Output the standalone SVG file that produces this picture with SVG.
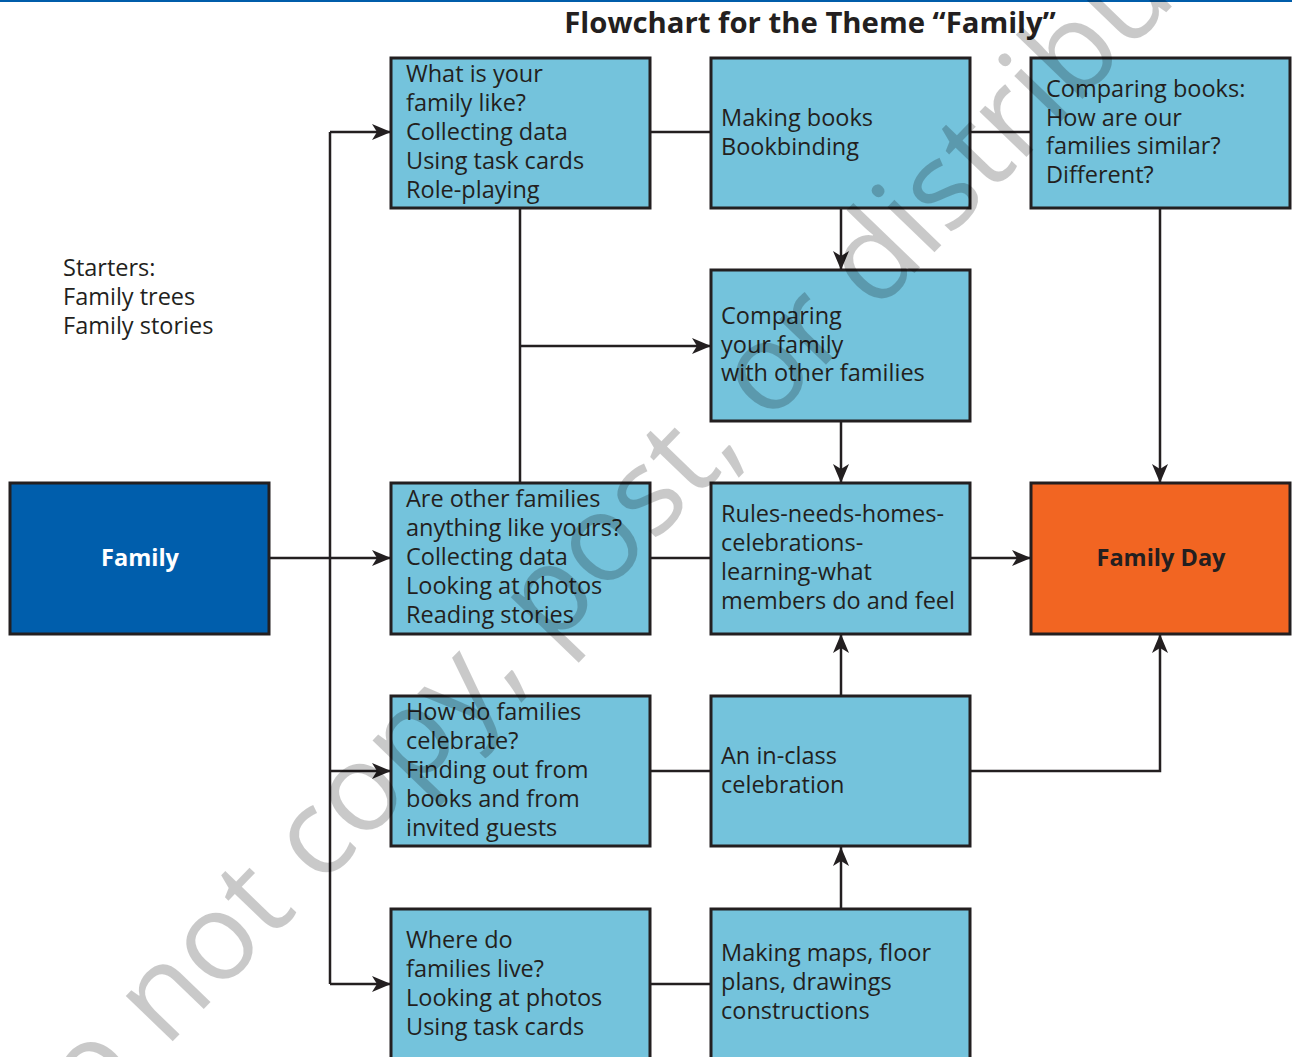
<svg xmlns="http://www.w3.org/2000/svg" width="1292" height="1057" viewBox="0 0 1292 1057">
<defs>
<style>
.box{fill:#74c3dc;stroke:#231f20;stroke-width:3}
.t{font-family:"Open Sans","Noto Sans","Liberation Sans",sans-serif;font-size:23.5px;fill:#231f20}
.b{font-family:"Open Sans","Noto Sans","Liberation Sans",sans-serif;font-size:23.5px;font-weight:bold;text-anchor:middle}
.c{fill:none;stroke:#231f20;stroke-width:2.5}
.a{marker-end:url(#arr)}
</style>
<marker id="arr" markerUnits="userSpaceOnUse" markerWidth="20" markerHeight="18" refX="19" refY="8" orient="auto" viewBox="0 0 20 16">
<path d="M0,0 L19,8 L0,16 L5,8 z" fill="#231f20"/>
</marker>
</defs>
<rect width="1292" height="1057" fill="#fff"/>
<rect x="0" y="0" width="1292" height="2" fill="#005daa"/>
<text x="810" y="33" text-anchor="middle" style="font-family:'Open Sans','Noto Sans','Liberation Sans',sans-serif;font-size:29.3px;font-weight:bold;fill:#231f20">Flowchart for the Theme “Family”</text>

<g id="connectors">
<path class="c" d="M330,132 V984"/>
<path class="c a" d="M269,558 H391"/>
<path class="c a" d="M330,132 H391"/>
<path class="c a" d="M330,771 H391"/>
<path class="c a" d="M330,984 H391"/>
<path class="c" d="M520,208 V483"/>
<path class="c a" d="M520,346 H711"/>
<path class="c" d="M650,132 H711"/>
<path class="c" d="M970,132 H1031"/>
<path class="c a" d="M841,208 V270"/>
<path class="c a" d="M841,421 V483"/>
<path class="c a" d="M1160,208 V483"/>
<path class="c" d="M650,558 H711"/>
<path class="c a" d="M970,558 H1031"/>
<path class="c" d="M650,771 H711"/>
<path class="c a" d="M841,696 V634"/>
<path class="c a" d="M970,771 H1160 V634"/>
<path class="c a" d="M841,909 V847"/>
<path class="c" d="M650,984 H711"/>
</g>

<g id="starters">
<text class="t" x="63"><tspan x="63" y="276">Starters:</tspan><tspan x="63" y="305">Family trees</tspan><tspan x="63" y="334">Family stories</tspan></text>
</g>

<g id="node-family">
<rect x="10" y="483" width="259" height="151" fill="#005eac" stroke="#231f20" stroke-width="3"/>
<text class="b" x="140" y="566" fill="#fff">Family</text>
</g>

<g id="node-what">
<rect class="box" x="391" y="58" width="259" height="150"/>
<text class="t"><tspan x="406" y="82">What is your</tspan><tspan x="406" y="111">family like?</tspan><tspan x="406" y="140">Collecting data</tspan><tspan x="406" y="169">Using task cards</tspan><tspan x="406" y="198">Role-playing</tspan></text>
</g>

<g id="node-making-books">
<rect class="box" x="711" y="58" width="259" height="150"/>
<text class="t"><tspan x="721" y="126">Making books</tspan><tspan x="721" y="155">Bookbinding</tspan></text>
</g>

<g id="node-comparing-books">
<rect class="box" x="1031" y="58" width="259" height="150"/>
<text class="t"><tspan x="1046" y="97">Comparing books:</tspan><tspan x="1046" y="126">How are our</tspan><tspan x="1046" y="154">families similar?</tspan><tspan x="1046" y="183">Different?</tspan></text>
</g>

<g id="node-comparing-family">
<rect class="box" x="711" y="270" width="259" height="151"/>
<text class="t"><tspan x="721" y="324">Comparing</tspan><tspan x="721" y="353">your family</tspan><tspan x="721" y="381">with other families</tspan></text>
</g>

<g id="node-other-families">
<rect class="box" x="391" y="483" width="259" height="151"/>
<text class="t"><tspan x="406" y="507">Are other families</tspan><tspan x="406" y="536">anything like yours?</tspan><tspan x="406" y="565">Collecting data</tspan><tspan x="406" y="594">Looking at photos</tspan><tspan x="406" y="623">Reading stories</tspan></text>
</g>

<g id="node-rules">
<rect class="box" x="711" y="483" width="259" height="151"/>
<text class="t"><tspan x="721" y="522">Rules-needs-homes-</tspan><tspan x="721" y="551">celebrations-</tspan><tspan x="721" y="580">learning-what</tspan><tspan x="721" y="609">members do and feel</tspan></text>
</g>

<g id="node-family-day">
<rect x="1031" y="483" width="259" height="151" fill="#f26522" stroke="#231f20" stroke-width="3"/>
<text class="b" x="1161" y="566" fill="#231f20">Family Day</text>
</g>

<g id="node-celebrate">
<rect class="box" x="391" y="696" width="259" height="150"/>
<text class="t"><tspan x="406" y="720">How do families</tspan><tspan x="406" y="749">celebrate?</tspan><tspan x="406" y="778">Finding out from</tspan><tspan x="406" y="807">books and from</tspan><tspan x="406" y="836">invited guests</tspan></text>
</g>

<g id="node-in-class">
<rect class="box" x="711" y="696" width="259" height="150"/>
<text class="t"><tspan x="721" y="764">An in-class</tspan><tspan x="721" y="793">celebration</tspan></text>
</g>

<g id="node-where">
<rect class="box" x="391" y="909" width="259" height="160"/>
<text class="t"><tspan x="406" y="948">Where do</tspan><tspan x="406" y="977">families live?</tspan><tspan x="406" y="1006">Looking at photos</tspan><tspan x="406" y="1035">Using task cards</tspan></text>
</g>

<g id="node-maps">
<rect class="box" x="711" y="909" width="259" height="160"/>
<text class="t"><tspan x="721" y="961">Making maps, floor</tspan><tspan x="721" y="990">plans, drawings</tspan><tspan x="721" y="1019">constructions</tspan></text>
</g>

<text transform="translate(31,1188) rotate(-46)" x="0" y="0" style="font-family:'Open Sans','Noto Sans',sans-serif;font-size:122px;fill:#000;fill-opacity:0.21">Do not copy, post, or distribute</text>
</svg>
